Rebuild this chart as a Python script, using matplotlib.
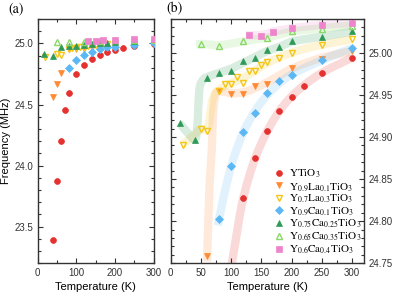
import numpy as np
import matplotlib
matplotlib.use('Agg')
import matplotlib.pyplot as plt
from matplotlib.ticker import MultipleLocator

plt.rcParams['font.family'] = ['Liberation Sans', 'DejaVu Sans']
plt.rcParams['mathtext.fontset'] = 'stix'

# ---- data (T in K, f in MHz) ----
T_y = [40, 50, 60, 70, 80, 100, 120, 140, 160, 180, 200, 220, 250, 300]
f_y = [23.39, 23.875, 24.205, 24.452, 24.591, 24.746, 24.827, 24.875, 24.907,
       24.931, 24.948, 24.961, 24.976, 24.994]

T_la1 = [40, 50, 60, 80, 100, 120, 140, 160, 200, 250, 300]
f_la1 = [24.565, 24.667, 24.759, 24.955, 24.951, 24.9515, 24.960, 24.9625,
         24.982, 24.993, 25.002]

T_la3 = [20, 50, 60, 80, 90, 100, 110, 120, 130, 140, 150, 160, 180, 200, 250, 300]
f_la3 = [24.891, 24.910, 24.907, 24.955, 24.963, 24.963, 24.971, 24.9645, 24.978,
         24.978, 24.985, 24.989, 24.994, 25.0, 25.0094, 25.0157]

T_ca1 = [80, 100, 120, 140, 160, 180, 200, 250, 300]
f_ca1 = [24.8026, 24.865, 24.9054, 24.929, 24.9527, 24.967, 24.973, 24.991, 25.0054]

T_ca25 = [15, 40, 60, 80, 100, 120, 140, 160, 180, 200, 250, 300]
f_ca25 = [24.916, 24.896, 24.970, 24.976, 24.978, 24.990, 24.994, 25.0035,
          25.0063, 25.0140, 25.0186, 25.0252]

T_ca35 = [50, 80, 120, 160, 200, 250, 300]
f_ca35 = [25.0106, 25.008, 25.0137, 25.0177, 25.026, 25.028, 25.032]

T_ca4 = [130, 150, 170, 200, 250, 300]
f_ca4 = [25.021, 25.020, 25.025, 25.0295, 25.033, 25.0354]

# guide-to-the-eye bands in panel (b), control points
gT_y = [96, 100, 120, 140, 160, 180, 200, 220, 250, 300]
gf_y = [24.735, 24.746, 24.827, 24.875, 24.907, 24.931, 24.948, 24.961, 24.976, 24.994]
gT_la1 = [60, 64, 68, 71, 76, 85, 100, 120, 140, 160, 200, 250, 300]
gf_la1 = [24.752, 24.837, 24.885, 24.935, 24.953, 24.954, 24.952, 24.953, 24.958,
          24.965, 24.981, 24.994, 25.002]
gT_la3 = [20, 35, 50, 60, 65, 69, 75, 80, 100, 120, 140, 160, 200, 250, 300]
gf_la3 = [24.891, 24.900, 24.909, 24.909, 24.925, 24.944, 24.953, 24.956, 24.964,
          24.970, 24.979, 24.988, 25.0, 25.0095, 25.0157]
gT_ca1 = [78, 80, 100, 120, 140, 160, 180, 200, 250, 300]
gf_ca1 = [24.795, 24.8026, 24.865, 24.905, 24.931, 24.950, 24.964, 24.974, 24.991, 25.0054]
gT_ca25 = [15, 28, 40, 44, 46, 49, 55, 60, 80, 100, 120, 140, 160, 180, 200, 250, 300]
gf_ca25 = [24.916, 24.905, 24.897, 24.912, 24.940, 24.962, 24.969, 24.971, 24.976,
           24.981, 24.988, 24.995, 25.002, 25.007, 25.013, 25.019, 25.025]
gT_ca35 = [42, 50, 80, 120, 160, 200, 250, 300]
gf_ca35 = [25.010, 25.0105, 25.009, 25.0135, 25.018, 25.025, 25.029, 25.032]
gT_ca4 = [125, 150, 170, 200, 250, 300]
gf_ca4 = [25.021, 25.021, 25.025, 25.029, 25.033, 25.035]

labels = [r'YTiO$_3$',
          r'Y$_{0.9}$La$_{0.1}$TiO$_3$',
          r'Y$_{0.7}$La$_{0.3}$TiO$_3$',
          r'Y$_{0.9}$Ca$_{0.1}$TiO$_3$',
          r'Y$_{0.75}$Ca$_{0.25}$TiO$_3$',
          r'Y$_{0.65}$Ca$_{0.35}$TiO$_3$',
          r'Y$_{0.6}$Ca$_{0.4}$TiO$_3$']

colors = ['#e5312f', '#ff8a33', '#f5c518', '#5cb8f5', '#2f9a58', '#8ad968', '#ee85cc']
markers = ['o', 'v', 'v', 'D', '^', '^', 's']
filled = [True, True, False, True, True, False, True]
msizes = [4.2, 4.6, 4.6, 3.6, 4.6, 4.6, 3.8]

series = [(T_y, f_y), (T_la1, f_la1), (T_la3, f_la3), (T_ca1, f_ca1),
          (T_ca25, f_ca25), (T_ca35, f_ca35), (T_ca4, f_ca4)]
guides = [(gT_y, gf_y), (gT_la1, gf_la1), (gT_la3, gf_la3), (gT_ca1, gf_ca1),
          (gT_ca25, gf_ca25), (gT_ca35, gf_ca35), (gT_ca4, gf_ca4)]


def smooth(x, y, xr, yr, n=20):
    # centripetal Catmull-Rom through control points, in normalised units
    p = np.column_stack([np.asarray(x, float) / xr, np.asarray(y, float) / yr])
    p = np.vstack([2 * p[0] - p[1], p, 2 * p[-1] - p[-2]])
    out = []
    for i in range(1, len(p) - 2):
        p0, p1, p2, p3 = p[i - 1], p[i], p[i + 1], p[i + 2]
        t0 = 0.0
        t1 = t0 + np.linalg.norm(p1 - p0) ** 0.5
        t2 = t1 + np.linalg.norm(p2 - p1) ** 0.5
        t3 = t2 + np.linalg.norm(p3 - p2) ** 0.5
        t = np.linspace(t1, t2, n)[:, None]
        a1 = (t1 - t) / (t1 - t0) * p0 + (t - t0) / (t1 - t0) * p1
        a2 = (t2 - t) / (t2 - t1) * p1 + (t - t1) / (t2 - t1) * p2
        a3 = (t3 - t) / (t3 - t2) * p2 + (t - t2) / (t3 - t2) * p3
        b1 = (t2 - t) / (t2 - t0) * a1 + (t - t0) / (t2 - t0) * a2
        b2 = (t3 - t) / (t3 - t1) * a2 + (t - t1) / (t3 - t1) * a3
        c = (t2 - t) / (t2 - t1) * b1 + (t - t1) / (t2 - t1) * b2
        out.append(c)
    out = np.vstack(out)
    return out[:, 0] * xr, out[:, 1] * yr


fig = plt.figure(figsize=(3.99, 2.99), dpi=100)
ax1 = fig.add_axes([0.0945, 0.1194, 0.2915, 0.817])
ax2 = fig.add_axes([0.4278, 0.1194, 0.4845, 0.817])

for i, (T, f) in enumerate(series):
    fc = colors[i] if filled[i] else 'none'
    kw = dict(linestyle='none', marker=markers[i], ms=msizes[i], mfc=fc,
              mec=colors[i], mew=1.0 if not filled[i] else 0.5, zorder=3)
    ax1.plot(T, f, **kw)
    ax2.plot(T, f, label=labels[i], **kw)
    gx, gy = smooth(guides[i][0], guides[i][1], 320.0, 0.29)
    ax2.plot(gx, gy, color=colors[i], lw=6, alpha=0.18, solid_capstyle='butt',
             zorder=1)

ax1.set_xlim(0, 301)
ax1.set_ylim(23.2, 25.2)
ax1.xaxis.set_major_locator(MultipleLocator(100))
ax1.xaxis.set_minor_locator(MultipleLocator(50))
ax1.yaxis.set_major_locator(MultipleLocator(0.5))
ax1.yaxis.set_minor_locator(MultipleLocator(0.1))
ax1.set_ylabel('Frequency (MHz)', fontsize=8, labelpad=2)

ax2.set_xlim(0, 320)
ax2.set_ylim(24.75, 25.04)
ax2.xaxis.set_major_locator(MultipleLocator(50))
ax2.xaxis.set_minor_locator(MultipleLocator(25))
ax2.yaxis.set_major_locator(MultipleLocator(0.05))
ax2.yaxis.set_minor_locator(MultipleLocator(0.01))
ax2.yaxis.set_major_formatter(matplotlib.ticker.FormatStrFormatter('%.2f'))
ax2.tick_params(axis='y', which='both', labelleft=False, labelright=True)

for ax in (ax1, ax2):
    ax.set_xlabel('Temperature (K)', fontsize=8, labelpad=3)
    ax.tick_params(which='both', direction='in', top=True, right=True,
                   labelsize=7, colors='#333333', width=0.8)
    ax.tick_params(which='major', length=3.5)
    ax.tick_params(which='minor', length=2)
    for s in ax.spines.values():
        s.set_linewidth(1.0)
        s.set_color('#333333')

leg = ax2.legend(loc='lower left', bbox_to_anchor=(0.53, 0.03), frameon=False,
                 handlelength=1.0, handletextpad=0.45, borderpad=0, borderaxespad=0,
                 labelspacing=0.03, prop={'family': 'STIXGeneral', 'size': 8.0})

fig.text(0.022, 0.995, '(a)', fontsize=10, family='STIXGeneral', va='top')
fig.text(0.416, 0.995, '(b)', fontsize=10, family='STIXGeneral', va='top')

fig.savefig('out.png', dpi=100)
